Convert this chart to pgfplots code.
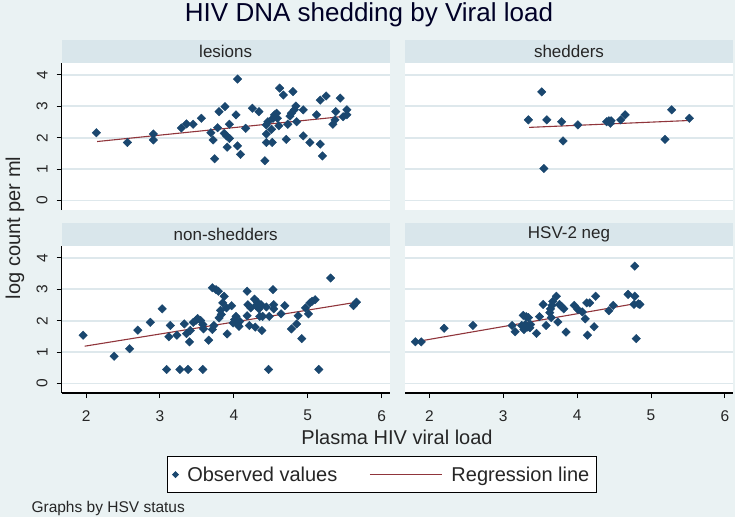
\documentclass[border=0pt]{standalone}
\usepackage{fontspec}
\setmainfont{Liberation Sans}
\usepackage{pgfplots}
\pgfplotsset{compat=1.18}
\definecolor{bgc}{RGB}{234,242,243}
\definecolor{stripc}{RGB}{217,230,235}
\definecolor{gridc}{RGB}{222,232,236}
\definecolor{navyc}{RGB}{26,71,111}
\definecolor{maroonc}{RGB}{144,53,59}
\pgfplotsset{
  every axis title shift=0pt,
  regline legend/.style={legend image code/.code={\draw[##1] (0pt,0pt) -- (72pt,0pt);}},
  panel/.style={
    scale only axis, width=328pt, height=147pt,
    xmin=1.67, xmax=6.11, ymin=-0.3, ymax=4.38,
    axis background/.style={fill=white},
    axis x line*=bottom, axis y line*=left,
    axis line style={black, line width=1.2pt, -},
    ytick={0,1,2,3,4}, xtick={2,3,4,5,6},
    ymajorgrids, major grid style={gridc, line width=1.8pt},
    tick align=outside, major tick length=5pt,
    tick style={black, line width=1pt},
    /pgf/number format/assume math mode=true,
    tick label style={font=\fontsize{15.5}{16}\selectfont, text=black!85},
    xticklabel style={anchor=north, inner sep=0pt, yshift=-12pt},
    yticklabel style={anchor=south, inner sep=0pt, rotate=90, yshift=9pt},
    title style={at={(0.5,1)}, anchor=south, yshift=0pt, fill=stripc,
      minimum width=328pt, minimum height=23pt, inner sep=0pt,
      font=\fontsize{17}{17}\selectfont, text=black!85},
    clip=false,
  },
  notx/.style={x axis line style={draw=none}, xtick=\empty},
  noty/.style={y axis line style={draw=none}, ytick style={draw=none}, yticklabels={}},
  obs/.style={only marks, mark=square*, mark size=3pt, mark options={rotate=45, fill=navyc, draw=navyc}},
  reg/.style={maroonc, line width=1.1pt, no marks},
}
\begin{document}
\begin{tikzpicture}
\useasboundingbox (0,0) rectangle (738pt,-522pt);
\fill[white] (0,0) rectangle (738pt,-522pt);
\fill[bgc] (0,0) rectangle (735pt,-517pt);
\node[font=\fontsize{26}{26}\selectfont, text=black!75!blue!60!black] at (369pt,-15pt) {HIV DNA shedding by Viral load};
\node[font=\fontsize{20}{20}\selectfont, rotate=90, text=black!85] at (15pt,-228pt) {log count per ml};
\node[font=\fontsize{20}{20}\selectfont, text=black!85] at (397pt,-437pt) {Plasma HIV viral load};
\node[font=\fontsize{15.5}{15.5}\selectfont, anchor=west, text=black!85] at (28pt,-508pt) {Graphs by HSV status};

% lesions
\begin{axis}[panel, notx, title={lesions}, at={(61.7pt,-210pt)}, anchor=south west]
\addplot[obs] coordinates {(2.14,2.16)(2.56,1.85)(2.91,2.12)(2.91,1.93)(3.29,2.31)(3.36,2.44)(3.45,2.43)(3.56,2.62)(3.69,2.16)(3.72,1.93)(3.74,1.33)(3.78,2.32)(3.80,2.83)(3.88,2.99)(3.87,2.14)(3.90,2.06)(3.91,1.70)(3.94,1.98)(3.94,2.43)(4.03,2.73)(4.05,3.87)(4.05,1.74)(4.09,1.47)(4.16,2.30)(4.25,2.94)(4.34,2.83)(4.42,1.27)(4.44,1.85)(4.44,2.12)(4.44,2.41)(4.46,2.51)(4.51,2.27)(4.52,1.85)(4.53,2.62)(4.55,2.73)(4.58,2.78)(4.59,2.62)(4.61,2.38)(4.62,3.58)(4.67,3.36)(4.71,1.95)(4.73,2.43)(4.76,2.69)(4.78,2.78)(4.80,3.47)(4.82,2.89)(4.84,3.01)(4.85,2.51)(4.94,2.06)(4.94,2.89)(5.03,1.85)(5.12,2.73)(5.17,1.80)(5.17,3.20)(5.20,1.42)(5.25,3.33)(5.34,2.43)(5.37,2.57)(5.38,2.83)(5.44,3.26)(5.48,2.67)(5.53,2.89)(5.53,2.73)};
\addplot[reg] coordinates {(2.15,1.88)(5.53,2.69)};
\end{axis}

% shedders
\begin{axis}[panel, notx, noty, title={shedders}, at={(405pt,-210pt)}, anchor=south west]
\addplot[obs] coordinates {(3.34,2.57)(3.52,3.46)(3.55,1.02)(3.59,2.57)(3.79,2.51)(3.81,1.90)(4.01,2.41)(4.40,2.51)(4.43,2.54)(4.45,2.46)(4.46,2.54)(4.59,2.57)(4.65,2.73)(5.19,1.95)(5.28,2.89)(5.52,2.62)};
\addplot[reg] coordinates {(3.35,2.33)(5.52,2.55)};
\end{axis}

% non-shedders
\begin{axis}[panel, title={non-shedders}, at={(61.7pt,-393pt)}, anchor=south west,
  legend style={at={(0.9765,-0.555)}, anchor=center, draw=black, line width=1pt, fill=white,
    font=\fontsize{20}{20}\selectfont, text=black!85, legend columns=2,
    inner xsep=5pt, inner ysep=8pt,
    /tikz/every odd column/.append style={column sep=7pt},
    /tikz/every even column/.append style={column sep=30pt}},
  legend cell align=left]
\addplot[obs, forget plot] coordinates {(1.96,1.54)(2.38,0.87)(2.59,1.11)(2.70,1.70)(2.87,1.95)(3.03,2.38)(3.09,0.45)(3.12,1.49)(3.14,1.85)(3.23,1.54)(3.27,0.45)(3.33,1.90)(3.36,1.59)(3.38,0.45)(3.40,1.33)(3.41,1.69)(3.45,1.95)(3.49,2.02)(3.51,2.07)(3.55,2.01)(3.58,1.88)(3.58,0.45)(3.59,1.74)(3.66,1.38)(3.71,3.05)(3.71,1.72)(3.73,1.85)(3.76,2.99)(3.79,2.94)(3.80,2.09)(3.82,2.33)(3.83,2.20)(3.85,2.57)(3.87,2.78)(3.90,2.41)(3.91,1.58)(3.97,2.48)(3.99,1.93)(4.01,2.04)(4.03,2.14)(4.05,1.90)(4.07,1.82)(4.08,1.98)(4.18,2.94)(4.18,2.16)(4.19,2.51)(4.21,1.85)(4.23,2.41)(4.28,2.69)(4.29,1.80)(4.30,2.48)(4.32,2.59)(4.34,2.38)(4.35,2.14)(4.37,2.51)(4.38,1.69)(4.39,2.14)(4.44,2.44)(4.47,0.45)(4.48,2.14)(4.53,2.99)(4.54,2.51)(4.54,2.38)(4.64,2.22)(4.69,2.48)(4.78,1.74)(4.85,1.90)(4.87,2.16)(4.92,1.43)(4.97,2.41)(5.01,2.22)(5.03,2.57)(5.06,2.62)(5.10,2.67)(5.15,0.45)(5.31,3.36)(5.62,2.48)(5.66,2.59)};
\addplot[reg, forget plot] coordinates {(1.98,1.19)(5.66,2.59)};
\addlegendimage{obs, mark size=2pt}
\addlegendentry{Observed values}
\addlegendimage{reg, regline legend}
\addlegendentry{Regression line}
\end{axis}

% HSV-2 neg
\begin{axis}[panel, noty, title={HSV-2 neg}, at={(405pt,-393pt)}, anchor=south west]
\addplot[obs] coordinates {(1.81,1.33)(1.89,1.33)(2.20,1.76)(2.59,1.85)(3.12,1.85)(3.16,1.65)(3.25,1.85)(3.27,2.17)(3.28,1.72)(3.30,1.88)(3.31,2.13)(3.33,1.80)(3.34,2.10)(3.36,1.78)(3.37,1.88)(3.45,1.60)(3.49,2.13)(3.54,2.52)(3.58,1.85)(3.63,2.26)(3.64,2.38)(3.65,2.10)(3.66,2.49)(3.67,2.62)(3.72,2.78)(3.74,1.96)(3.76,2.52)(3.79,2.45)(3.82,2.38)(3.85,1.64)(3.96,2.49)(4.01,2.36)(4.07,2.28)(4.11,2.06)(4.13,2.57)(4.14,1.54)(4.17,2.57)(4.23,1.81)(4.25,2.78)(4.43,2.32)(4.49,2.49)(4.69,2.84)(4.78,3.74)(4.78,2.78)(4.77,2.52)(4.80,1.43)(4.83,2.54)(4.85,2.52)};
\addplot[reg] coordinates {(1.81,1.33)(4.85,2.57)};
\end{axis}
\end{tikzpicture}
\end{document}
